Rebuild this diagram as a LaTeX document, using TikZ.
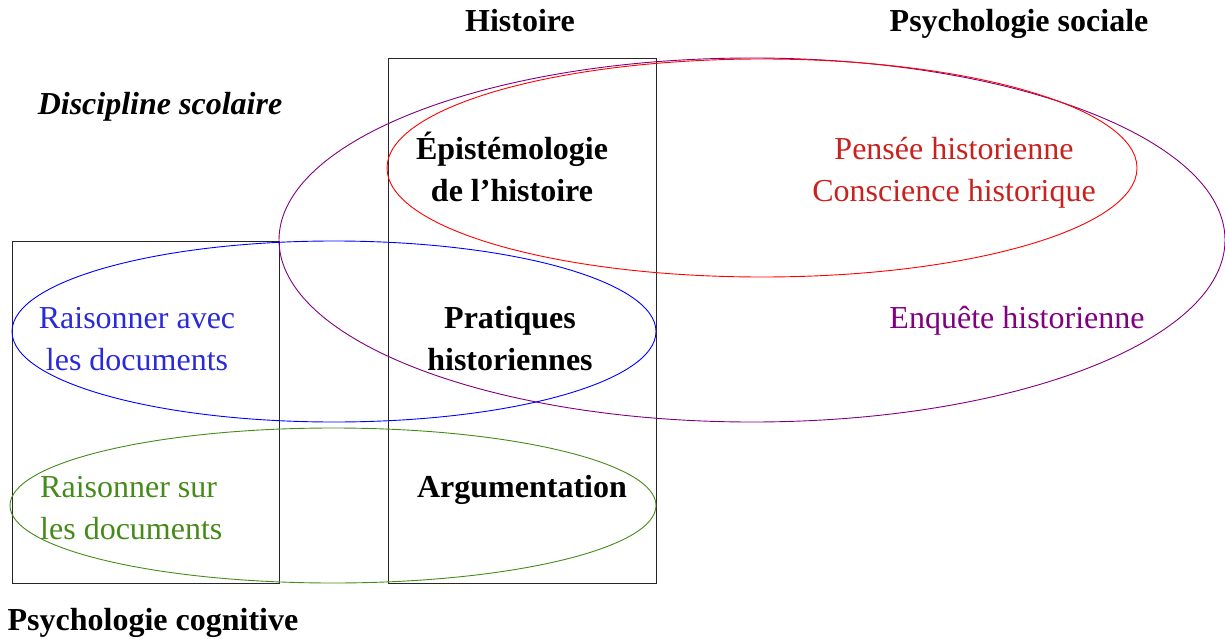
\documentclass[tikz,border=0pt]{standalone}
\usepackage{fontspec}
\setmainfont{Liberation Serif}
\definecolor{cpurple}{HTML}{800080}
\definecolor{cred}{HTML}{FF0000}
\definecolor{credtxt}{HTML}{C9211E}
\definecolor{cblue}{HTML}{0000FF}
\definecolor{cbluetxt}{HTML}{2A2AD8}
\definecolor{cgreen}{HTML}{468A1A}
\begin{document}
\begin{tikzpicture}[x=1pt,y=-1pt,
  lbl/.style={font=\fontsize{32}{42}\selectfont, inner sep=0pt, align=center},
  blbl/.style={lbl, font=\fontsize{32}{42}\selectfont\bfseries},
  box/.style={draw=black!85, line width=0.9pt},
  ell/.style={line width=0.9pt}]
\useasboundingbox (0,0) rectangle (1225,639);
% rectangles
\draw[box] (12,241) rectangle (279,583);
\draw[box] (388,58) rectangle (656,583);
% ellipses
\draw[ell, cpurple] (752,240) ellipse [x radius=473, y radius=182];
\draw[ell, cred] (762,168) ellipse [x radius=375, y radius=109];
\draw[ell, cblue] (334,331.5) ellipse [x radius=322, y radius=90.5];
\draw[ell, cgreen] (333,505.5) ellipse [x radius=323, y radius=77.5];
% labels
\node[blbl, anchor=base] (hist) at (520,32) {Histoire};
\node[blbl, anchor=base] (psoc) at (1019,32) {Psychologie sociale};
\node[blbl, anchor=base, font=\fontsize{32}{42}\selectfont\bfseries\itshape] (disc) at (160,115) {Discipline scolaire};
\node[blbl, anchor=base] (pcog) at (153,630) {Psychologie cognitive};
\node[blbl] (epi) at (512,167) {Épistémologie\\de l’histoire};
\node[lbl, text=credtxt] (pens) at (954,173) {Pensée historienne\\Conscience historique};
\node[lbl, text=cbluetxt] (rav) at (137,339) {Raisonner avec\\les documents};
\node[blbl] (prat) at (510,339) {Pratiques\\historiennes};
\node[lbl, text=cpurple, anchor=base] (enq) at (1017,328) {Enquête historienne};
\node[lbl, text=cgreen, align=left, anchor=west] (rsur) at (40,508) {Raisonner sur\\les documents};
\node[blbl, anchor=base] (arg) at (522,497) {Argumentation};
\end{tikzpicture}
\end{document}
